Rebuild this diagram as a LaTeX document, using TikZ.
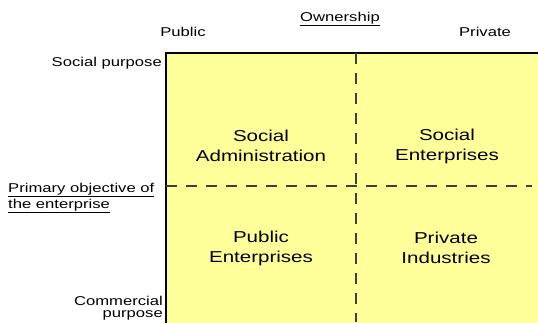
\documentclass[tikz,border=0pt]{standalone}
\usepackage{fontspec}
\setmainfont[FakeStretch=1.3]{Liberation Sans}
\definecolor{quadfill}{RGB}{255,255,153}
\tikzset{
  lbl/.style={inner sep=0pt, font=\fontsize{12.8}{16}\selectfont},
  quad/.style={inner sep=0pt, align=center, font=\fontsize{15.8}{20}\selectfont},
  divider/.style={line width=1.1pt, black!75, dash pattern=on 11pt off 9pt}
}
\begin{document}
\begin{tikzpicture}[x=1pt,y=-1pt]
  \useasboundingbox (0,0) rectangle (538,322);
  \clip (0,0) rectangle (538,322);
  % axis headings
  \node[lbl, anchor=base] (ownership) at (340,21) {\underline{Ownership}};
  \node[lbl, anchor=base] (public) at (183,36) {Public};
  \node[lbl, anchor=base] (private) at (485,36) {Private};
  \node[lbl, anchor=base east] (social) at (162,66) {Social purpose};
  \node[lbl, anchor=north west, align=left] (primary) at (8,183)
    {\underline{Primary objective of}\\\underline{the enterprise}};
  \node[lbl, anchor=north east, align=right,
        font=\fontsize{12.8}{12.5}\selectfont] (commercial) at (163,296)
    {Commercial\\purpose};
  % the yellow square, open to the right and below
  \draw[line width=1.3pt, fill=quadfill] (166,53) rectangle (560,340);
  \coordinate (top) at (356,53);
  \coordinate (bottom) at (356,322);
  \coordinate (left) at (166,186);
  \coordinate (right) at (532,186);
  \draw[divider] (top) -- (bottom);
  \draw[divider] (left) -- (right);
  % quadrants
  \node[quad] (admin) at (261,146) {Social\\Administration};
  \node[quad] (socent) at (447,146) {Social\\Enterprises};
  \node[quad] (pubent) at (261,248) {Public\\Enterprises};
  \node[quad] (privind) at (446,248) {Private\\Industries};
\end{tikzpicture}
\end{document}
